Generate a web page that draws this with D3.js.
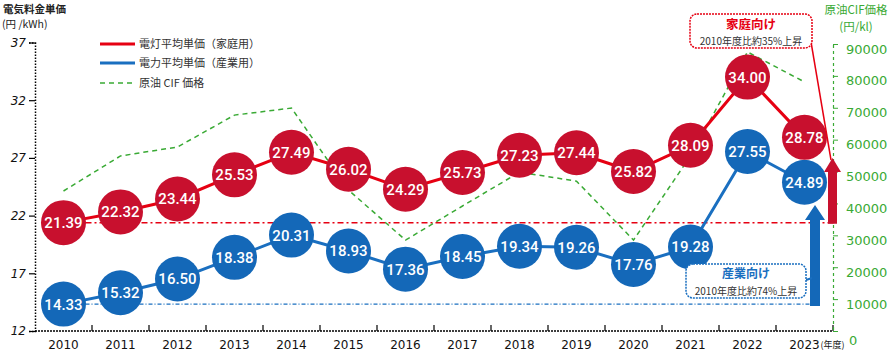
<!DOCTYPE html>
<html>
<head>
<meta charset="utf-8">
<script src="https://cdn.jsdelivr.net/npm/d3@7"></script>
<style>
  body { margin: 0; background: #fff; }
  svg { display: block; font-family: "Noto Sans CJK JP", "Noto Sans", sans-serif; }
</style>
</head>
<body>
<svg id="chart" width="888" height="352"></svg>
<script>
// Years shown on the x axis
const years = ["2010","2011","2012","2013","2014","2015","2016","2017","2018","2019","2020","2021","2022","2023"];

// Household (電灯) and industrial (電力) average unit price, 円/kWh
const householdPrice = [21.39,22.32,23.44,25.53,27.49,26.02,24.29,25.73,27.23,27.44,25.82,28.09,34.00,28.78];
const industrialPrice = [14.33,15.32,16.50,18.38,20.31,18.93,17.36,18.45,19.34,19.26,17.76,19.28,27.55,24.89];

// Crude oil CIF price, 円/kl
const crudeCif = [43900,54900,57700,67700,69900,44200,28500,39200,49800,47000,28500,54900,87500,78100];

// Axis ticks
const leftTicks = [12,17,22,27,32,37];
const rightTicks = [0,10000,20000,30000,40000,50000,60000,70000,80000,90000];

const RED = "#e60012";
const RED_DOT = "#c8102e";
const BLUE = "#1a6fc0";
const BLUE_DOT = "#1468b8";
const GREEN = "#3aaa35";

const svg = d3.select("#chart");

const x = d3.scaleBand().domain(years).range([35, 833]);
const yLeft = d3.scaleLinear().domain([12, 37]).range([331, 42.5]);
const yRight = d3.scaleLinear().domain([0, 90000]).range([331, 44]);
const cx = d => x(d) + x.bandwidth() / 2;

// Left axis (dotted)
const leftAxis = svg.append("g").attr("transform", "translate(35,0)")
  .call(d3.axisLeft(yLeft).tickValues(leftTicks).tickSize(6).tickFormat(d3.format("d")));
leftAxis.select(".domain").attr("stroke", "#000").attr("stroke-width", 1.5).attr("stroke-dasharray", "1.5,1.5");
leftAxis.selectAll("line").attr("stroke", "#000").attr("stroke-width", 1.2);
leftAxis.selectAll("text").attr("font-size", 12).attr("fill", "#111").attr("x", -9)
  .attr("font-family", "DejaVu Sans, sans-serif").attr("font-style", "italic");

// Bottom axis: ticks at band boundaries
const bottomG = svg.append("g");
bottomG.append("line").attr("x1", 35).attr("x2", 833).attr("y1", 331).attr("y2", 331)
  .attr("stroke", "#000").attr("stroke-width", 1.5).attr("stroke-dasharray", "2,1");
bottomG.selectAll("line.tk").data(years).join("line")
  .attr("class", "tk")
  .attr("x1", (d, i) => 35 + x.bandwidth() * (i + 1)).attr("x2", (d, i) => 35 + x.bandwidth() * (i + 1))
  .attr("y1", 331).attr("y2", 325).attr("stroke", "#000").attr("stroke-width", 1.2);
bottomG.selectAll("text.yr").data(years).join("text")
  .attr("class", "yr")
  .attr("x", d => cx(d)).attr("y", 349).attr("text-anchor", "middle")
  .attr("font-size", 12).attr("fill", "#111").attr("font-family", "DejaVu Sans, sans-serif")
  .text(d => d);
bottomG.append("text").attr("x", cx("2023") + 16).attr("y", 348)
  .attr("font-size", 9).attr("fill", "#111").text("(年度)");

// Right axis (green, dashed)
const rightAxis = svg.append("g").attr("transform", "translate(833,0)")
  .call(d3.axisRight(yRight).tickValues(rightTicks).tickSize(5).tickFormat(d3.format("d")));
rightAxis.select(".domain").attr("stroke", GREEN).attr("stroke-width", 1.2).attr("stroke-dasharray", "3,3");
rightAxis.selectAll("line").attr("stroke", GREEN);
rightAxis.selectAll("text").attr("font-size", 13).attr("fill", GREEN).attr("x", 13).attr("dy", "0.7em")
  .attr("font-family", "DejaVu Sans, sans-serif");
rightAxis.selectAll(".tick").filter(d => d === 0).select("text").attr("x", 16).attr("dy", "1em");

// Axis titles
svg.append("text").attr("x", 3).attr("y", 12.5).attr("font-size", 10.5).attr("font-weight", 700)
  .attr("fill", "#222").text("電気料金単価");
svg.append("text").attr("x", 2).attr("y", 28).attr("font-size", 10.5).attr("fill", "#222").text("(円 /kWh)");
svg.append("text").attr("x", 856).attr("y", 14).attr("text-anchor", "middle").attr("font-size", 11.5)
  .attr("fill", GREEN).text("原油CIF価格");
svg.append("text").attr("x", 856).attr("y", 31).attr("text-anchor", "middle").attr("font-size", 11.5)
  .attr("fill", GREEN).text("(円/kl)");

// Legend
const legend = [
  { label: "電灯平均単価（家庭用）", color: RED, dash: null, w: 3, y: 44 },
  { label: "電力平均単価（産業用）", color: BLUE, dash: null, w: 3, y: 63 },
  { label: "原油 CIF 価格", color: GREEN, dash: "5,4", w: 1.5, y: 83 }
];
const lg = svg.append("g").selectAll("g").data(legend).join("g");
lg.append("line").attr("x1", 100).attr("x2", 135).attr("y1", d => d.y).attr("y2", d => d.y)
  .attr("stroke", d => d.color).attr("stroke-width", d => d.w).attr("stroke-dasharray", d => d.dash);
lg.append("text").attr("x", 139).attr("y", d => d.y + 4).attr("font-size", 11).attr("fill", "#333")
  .text(d => d.label);

// Reference lines at 2010 levels
svg.append("line").attr("x1", cx("2010") + 22).attr("x2", 836)
  .attr("y1", yLeft(householdPrice[0])).attr("y2", yLeft(householdPrice[0]))
  .attr("stroke", RED).attr("stroke-width", 1.5).attr("stroke-dasharray", "6,3,2,3");
svg.append("line").attr("x1", cx("2010") + 22).attr("x2", 812)
  .attr("y1", yLeft(industrialPrice[0])).attr("y2", yLeft(industrialPrice[0]))
  .attr("stroke", BLUE).attr("stroke-width", 1.3).attr("stroke-dasharray", "4,2,1,2");

// Crude oil line
const lineRight = d3.line().x((d, i) => cx(years[i])).y(d => yRight(d));
svg.append("path").datum(crudeCif).attr("d", lineRight).attr("fill", "none")
  .attr("stroke", GREEN).attr("stroke-width", 1.5).attr("stroke-dasharray", "5,4");

// Price lines
const lineLeft = d3.line().x((d, i) => cx(years[i])).y(d => yLeft(d));
svg.append("path").datum(industrialPrice).attr("d", lineLeft).attr("fill", "none")
  .attr("stroke", BLUE).attr("stroke-width", 3);
svg.append("path").datum(householdPrice).attr("d", lineLeft).attr("fill", "none")
  .attr("stroke", RED).attr("stroke-width", 3);

// Bubbles with values
function bubbles(values, fill) {
  const g = svg.append("g").selectAll("g").data(values).join("g")
    .attr("transform", (d, i) => `translate(${cx(years[i])},${yLeft(d)})`);
  g.append("circle").attr("r", 22.5).attr("fill", fill);
  g.append("text").attr("text-anchor", "middle").attr("dy", "0.36em").attr("font-size", 15)
    .attr("font-weight", 500).attr("fill", "#fff").attr("font-family", "Roboto, 'Noto Sans', sans-serif")
    .text(d => d.toFixed(2));
}
bubbles(industrialPrice, BLUE_DOT);
bubbles(householdPrice, RED_DOT);

// Increase arrows
function arrow(xc, yTop, yBottom, fill, shaftW, headW, headH) {
  svg.append("path").attr("fill", fill)
    .attr("d", `M${xc - shaftW / 2},${yBottom} L${xc - shaftW / 2},${yTop + headH} L${xc - headW / 2},${yTop + headH}
      L${xc},${yTop} L${xc + headW / 2},${yTop + headH} L${xc + shaftW / 2},${yTop + headH} L${xc + shaftW / 2},${yBottom} Z`);
}
arrow(832.5, 158, yLeft(householdPrice[0]) + 1, RED_DOT, 9, 17, 14);
arrow(815, 205, yLeft(industrialPrice[0]) + 2, BLUE_DOT, 10, 20, 15);

// Callouts
svg.append("line").attr("x1", 810).attr("y1", 36).attr("x2", 831).attr("y2", 160)
  .attr("stroke", RED).attr("stroke-width", 1.5);
svg.append("rect").attr("x", 690).attr("y", 14).attr("width", 122).attr("height", 34).attr("rx", 7)
  .attr("fill", "#fff").attr("stroke", RED).attr("stroke-width", 1.5).attr("stroke-dasharray", "2,1");
svg.append("text").attr("x", 751).attr("y", 29).attr("text-anchor", "middle").attr("font-size", 12.5)
  .attr("font-weight", 700).attr("fill", RED).text("家庭向け");
svg.append("text").attr("x", 751).attr("y", 45).attr("text-anchor", "middle").attr("font-size", 10)
  .attr("fill", "#333").text("2010年度比約35%上昇");

svg.append("line").attr("x1", 806).attr("y1", 280).attr("x2", 812).attr("y2", 278)
  .attr("stroke", BLUE).attr("stroke-width", 2);
svg.append("rect").attr("x", 686).attr("y", 264).attr("width", 120).attr("height", 34).attr("rx", 7)
  .attr("fill", "#fff").attr("stroke", BLUE).attr("stroke-width", 1.5).attr("stroke-dasharray", "2,1");
svg.append("text").attr("x", 746).attr("y", 278).attr("text-anchor", "middle").attr("font-size", 12)
  .attr("font-weight", 700).attr("fill", BLUE).text("産業向け");
svg.append("text").attr("x", 746).attr("y", 294.5).attr("text-anchor", "middle").attr("font-size", 10)
  .attr("fill", "#333").text("2010年度比約74%上昇");
</script>
</body>
</html>
